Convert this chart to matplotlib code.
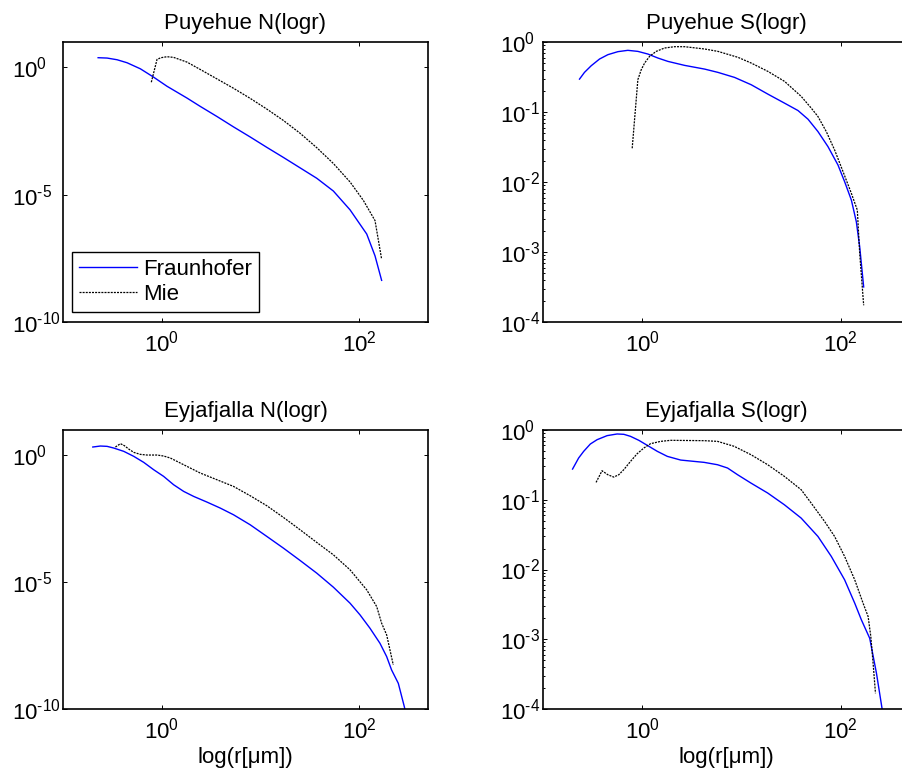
import numpy as np
import matplotlib
matplotlib.use("Agg")
import matplotlib.pyplot as plt
from matplotlib.ticker import FixedLocator, NullLocator, LogLocator, FuncFormatter

plt.rcParams['font.family'] = ['Liberation Sans', 'DejaVu Sans']
plt.rcParams['mathtext.fontset'] = 'custom'
plt.rcParams['mathtext.rm'] = 'Liberation Sans'
plt.rcParams['axes.unicode_minus'] = False

titles = ['Puyehue N(logr)', 'Puyehue S(logr)', 'Eyjafjalla N(logr)', 'Eyjafjalla S(logr)']
series_names = ['Fraunhofer', 'Mie']

# values, as log10(r) and log10(value)
pn_fr_lx = [-0.644, -0.553, -0.452, -0.351, -0.216, -0.081, 0.054, 0.256, 0.391, 0.560, 0.728, 0.897,
            1.066, 1.234, 1.403, 1.572, 1.740, 1.909, 2.078, 2.162, 2.229]
pn_fr_ly = [0.383, 0.369, 0.303, 0.185, -0.053, -0.383, -0.739, -1.201, -1.530, -1.926, -2.335, -2.731,
            -3.140, -3.536, -3.945, -4.354, -4.855, -5.594, -6.544, -7.401, -8.364]
pn_mie_lx = [-0.105, -0.047, -0.007, 0.054, 0.121, 0.256, 0.391, 0.560, 0.728, 0.897, 1.066, 1.234,
             1.403, 1.572, 1.740, 1.909, 2.044, 2.162, 2.229]
pn_mie_ly = [-0.580, 0.317, 0.383, 0.422, 0.396, 0.211, -0.079, -0.449, -0.818, -1.214, -1.636, -2.084,
             -2.586, -3.153, -3.773, -4.499, -5.224, -6.016, -7.533]

ps_fr_lx = [-0.632, -0.582, -0.514, -0.430, -0.346, -0.245, -0.145, -0.044, 0.057, 0.158, 0.259, 0.427,
            0.629, 0.763, 0.931, 1.099, 1.267, 1.435, 1.570, 1.671, 1.771, 1.872, 1.973, 2.040, 2.108,
            2.158, 2.192, 2.232]
ps_fr_ly = [-0.530, -0.434, -0.339, -0.243, -0.181, -0.138, -0.119, -0.134, -0.172, -0.229, -0.277, -0.334,
            -0.387, -0.434, -0.506, -0.611, -0.745, -0.874, -0.979, -1.103, -1.279, -1.494, -1.757, -1.995,
            -2.258, -2.568, -2.926, -3.499]
ps_mie_lx = [-0.101, -0.044, -0.010, 0.024, 0.074, 0.141, 0.225, 0.326, 0.427, 0.629, 0.763, 0.965, 1.099,
             1.267, 1.435, 1.603, 1.704, 1.771, 1.855, 1.939, 2.024, 2.108, 2.168, 2.192, 2.232]
ps_mie_ly = [-1.518, -0.539, -0.396, -0.301, -0.205, -0.134, -0.086, -0.067, -0.067, -0.100, -0.134, -0.219,
             -0.301, -0.420, -0.563, -0.778, -0.945, -1.064, -1.279, -1.542, -1.852, -2.162, -2.401, -3.021,
             -3.761]

en_fr_lx = [-0.698, -0.621, -0.553, -0.486, -0.384, -0.283, -0.182, -0.081, 0.020, 0.121, 0.223, 0.324,
            0.459, 0.594, 0.728, 0.897, 1.066, 1.234, 1.403, 1.572, 1.740, 1.909, 2.010, 2.111, 2.212,
            2.280, 2.330, 2.398, 2.459, 2.489]
en_fr_ly = [0.329, 0.368, 0.355, 0.289, 0.158, -0.039, -0.276, -0.566, -0.829, -1.158, -1.421, -1.618,
            -1.842, -2.079, -2.342, -2.737, -3.197, -3.658, -4.145, -4.645, -5.197, -5.829, -6.289, -6.816,
            -7.408, -7.934, -8.461, -8.987, -9.908, -10.434]
en_mie_lx = [-0.469, -0.418, -0.378, -0.334, -0.283, -0.216, -0.148, -0.047, 0.020, 0.088, 0.189, 0.391,
             0.560, 0.728, 0.897, 1.066, 1.234, 1.403, 1.572, 1.740, 1.909, 2.078, 2.179, 2.229, 2.280, 2.347]
en_mie_ly = [0.329, 0.461, 0.382, 0.250, 0.118, 0.039, 0.013, 0.013, -0.026, -0.105, -0.303, -0.697,
             -0.961, -1.224, -1.592, -1.987, -2.447, -2.934, -3.434, -3.921, -4.513, -5.303, -5.961, -6.618,
             -7.079, -8.263]

es_fr_lx = [-0.702, -0.641, -0.590, -0.523, -0.455, -0.354, -0.253, -0.185, -0.118, -0.034, 0.051, 0.152,
            0.253, 0.388, 0.523, 0.624, 0.759, 0.860, 0.961, 1.096, 1.265, 1.433, 1.602, 1.771, 1.906,
            2.040, 2.142, 2.209, 2.293, 2.361, 2.418, 2.445]
es_fr_ly = [-0.560, -0.402, -0.306, -0.201, -0.139, -0.081, -0.057, -0.062, -0.091, -0.148, -0.220, -0.306,
            -0.378, -0.431, -0.450, -0.464, -0.498, -0.545, -0.641, -0.761, -0.904, -1.072, -1.263, -1.526,
            -1.813, -2.148, -2.483, -2.722, -2.986, -3.488, -4.000, -4.206]
es_mie_lx = [-0.465, -0.405, -0.347, -0.287, -0.236, -0.186, -0.118, -0.051, 0.017, 0.084, 0.186, 0.287,
             0.624, 0.759, 0.927, 1.096, 1.265, 1.433, 1.602, 1.703, 1.838, 1.939, 2.040, 2.142, 2.226,
             2.277, 2.304, 2.327, 2.351]
es_mie_ly = [-0.751, -0.584, -0.641, -0.675, -0.641, -0.569, -0.450, -0.340, -0.258, -0.196, -0.163, -0.148,
             -0.153, -0.163, -0.234, -0.354, -0.498, -0.665, -0.856, -1.048, -1.311, -1.526, -1.813, -2.148,
             -2.483, -2.675, -2.962, -3.344, -3.775]

panels = [
    (pn_fr_lx, pn_fr_ly, pn_mie_lx, pn_mie_ly),
    (ps_fr_lx, ps_fr_ly, ps_mie_lx, ps_mie_ly),
    (en_fr_lx, en_fr_ly, en_mie_lx, en_mie_ly),
    (es_fr_lx, es_fr_ly, es_mie_lx, es_mie_ly),
]


def pow10_label(v, pos):
    # matlab style: plain hyphen in the exponent
    e = int(round(np.log10(v)))
    if e < 0:
        return r'$\mathdefault{10^{\text{-}%d}}$' % (-e)
    return r'$\mathdefault{10^{%d}}$' % e


W, H = 902, 780
fig = plt.figure(figsize=(W / 100, H / 100), dpi=100)
# axes boxes in pixels: left, top, width, height (right column runs past the edge)
boxes = [(63, 42, 365, 280), (543, 42, 367, 280), (63, 430, 365, 279), (543, 430, 367, 279)]

for i, (fx, fy, mx, my) in enumerate(panels):
    l, t, w, h = boxes[i]
    ax = fig.add_axes([l / W, 1 - (t + h) / H, w / W, h / H])
    ax.plot(np.power(10.0, fx), np.power(10.0, fy), color='#0000ff', lw=1.0, label=series_names[0])
    ax.plot(np.power(10.0, mx), np.power(10.0, my), color='black', lw=0.9, dashes=(1.6, 0.9), label=series_names[1])
    ax.set_xscale('log')
    ax.set_yscale('log')
    ax.set_xlim(0.1, 500)
    ax.xaxis.set_major_locator(FixedLocator([1, 100]))
    ax.xaxis.set_minor_locator(NullLocator())
    if i % 2 == 0:
        ax.set_ylim(1e-10, 10)
        ax.yaxis.set_major_locator(FixedLocator([1e-10, 1e-5, 1]))
        ax.yaxis.set_minor_locator(NullLocator())
        ypad = 36.5
    else:
        ax.set_ylim(1e-4, 1)
        ax.yaxis.set_major_locator(FixedLocator([1e-4, 1e-3, 1e-2, 1e-1, 1]))
        ax.yaxis.set_minor_locator(LogLocator(base=10, subs=np.arange(2, 10)))
        ypad = 31
    ax.xaxis.set_major_formatter(FuncFormatter(pow10_label))
    ax.yaxis.set_major_formatter(FuncFormatter(pow10_label))
    ax.tick_params(which='both', direction='in', top=True, right=True, labelsize=16, width=0.7)
    ax.tick_params(which='major', length=3)
    ax.tick_params(which='minor', length=1.6)
    ax.tick_params(axis='x', pad=6)
    ax.tick_params(axis='y', pad=ypad)
    plt.setp(ax.get_yticklabels(), ha='left')
    for sp in ax.spines.values():
        sp.set_linewidth(1.2)
    ax.set_title(titles[i], fontsize=16, pad=9)
    if i >= 2:
        ax.set_xlabel('log(r[\u03bcm])', fontsize=16, labelpad=3)
    if i == 0:
        leg = ax.legend(loc='lower left', bbox_to_anchor=(0.025, 0.036), borderaxespad=0,
                        fontsize=16, handlelength=2.6, handletextpad=0.3, borderpad=0.3,
                        labelspacing=0.2, fancybox=False, framealpha=1, edgecolor='black')
        leg.get_frame().set_linewidth(1.0)

fig.savefig('out.png', dpi=100)
